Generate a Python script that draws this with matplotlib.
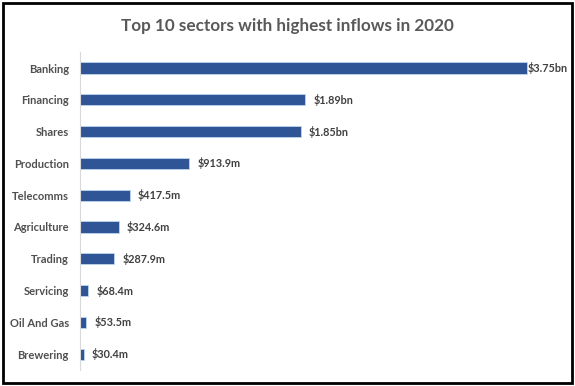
import matplotlib.pyplot as plt
from matplotlib.patches import Rectangle

sectors = ["Banking", "Financing", "Shares", "Production", "Telecomms",
           "Agriculture", "Trading", "Servicing", "Oil And Gas", "Brewering"]
inflows_m = [3750, 1890, 1850, 913.9, 417.5, 324.6, 287.9, 68.4, 53.5, 30.4]
value_labels = ["$3.75bn", "$1.89bn", "$1.85bn", "$913.9m", "$417.5m",
                "$324.6m", "$287.9m", "$68.4m", "$53.5m", "$30.4m"]

plt.rcParams['font.family'] = ['Lato', 'DejaVu Sans']

fig = plt.figure(figsize=(5.75, 3.86), dpi=100)
fig.patches.append(Rectangle((0.006, 0.008), 0.988, 0.984, transform=fig.transFigure,
                             fill=False, edgecolor='black', linewidth=2))

ax = fig.add_axes([0.139, 0.0415, 0.83, 0.8235])
ypos = list(range(len(sectors)))
ax.barh(ypos, inflows_m, height=0.35, color='#2F5597', edgecolor='#BDD7EE', linewidth=0.6)
vmax = max(inflows_m)
for y, v, lab in zip(ypos, inflows_m, value_labels):
    # the longest bar's label sits right against the bar end
    off = 0.5 if v == vmax else 6
    ax.annotate(lab, (v, y), xytext=(off, 0), textcoords='offset points',
                va='center', ha='left', fontsize=7.8, fontweight='bold', color='#404040')

ax.set_xlim(0, 4000)
ax.set_ylim(9.5, -0.5)
ax.set_yticks(ypos)
ax.set_yticklabels(sectors, fontsize=8, color='#505050', fontweight='bold')
ax.set_xticks([])
ax.tick_params(axis='y', length=0, pad=8)
for s in ['top', 'right', 'bottom']:
    ax.spines[s].set_visible(False)
ax.spines['left'].set_color('#D9D9D9')

fig.text(0.5, 0.933, "Top 10 sectors with highest inflows in 2020", ha='center', va='center',
         fontsize=12.3, fontweight='bold', color='#595959')

fig.savefig("out.png", dpi=100)
